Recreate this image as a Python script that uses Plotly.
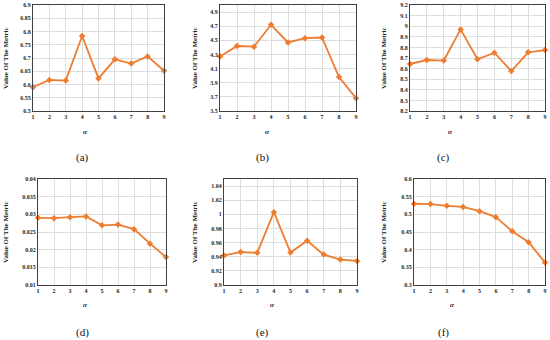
import plotly.graph_objects as go

W, H = 550, 340

alpha = [1, 2, 3, 4, 5, 6, 7, 8, 9]
vals_a = [6.590, 6.617, 6.615, 6.783, 6.623, 6.695, 6.679, 6.706, 6.652]
vals_b = [4.27, 4.42, 4.41, 4.72, 4.47, 4.53, 4.54, 3.98, 3.68]
vals_c = [8.643, 8.681, 8.676, 8.970, 8.688, 8.750, 8.577, 8.754, 8.775]
vals_d = [0.0290, 0.0289, 0.0292, 0.0294, 0.0269, 0.0271, 0.0258, 0.0217, 0.0179]
vals_e = [0.9418, 0.9466, 0.9456, 1.003, 0.946, 0.9627, 0.943, 0.936, 0.934]
vals_f = [0.530, 0.529, 0.524, 0.521, 0.509, 0.492, 0.452, 0.421, 0.364]

panels = [
    # values, y range, dtick, box px (x0, x1, y0, y1), ytitle x px, label, alpha x, label x
    (vals_a, [6.5, 6.9], 0.05, (33, 164, 5, 111), 6, "(a)", 85, 82),
    (vals_b, [3.5, 5.0], 0.2, (220, 356, 5, 111), 195, "(b)", 267, 262),
    (vals_c, [8.2, 9.2], 0.1, (410, 545, 5, 111), 384, "(c)", 450, 443),
    (vals_d, [0.01, 0.04], 0.005, (38, 166, 179, 285), 6, "(d)", 85, 82),
    (vals_e, [0.9, 1.05], 0.02, (224, 357, 179, 285), 195, "(e)", 272, 262),
    (vals_f, [0.3, 0.6], 0.05, (414, 545, 179, 285), 384, "(f)", 452, 443),
]

ORANGE = "#ED7D31"
GRID = "#DDDDDD"
BORDER = "#404040"
FONT = "Liberation Serif"

fig = go.Figure()
layout = dict(
    width=W, height=H,
    margin=dict(l=0, r=0, t=0, b=0),
    paper_bgcolor="white", plot_bgcolor="white",
    showlegend=False,
)
annotations = []

for i, (vals, yr, dt, box, ytx, lab, ax_x, lab_x) in enumerate(panels):
    n = "" if i == 0 else str(i + 1)
    x0, x1, y0, y1 = box
    fig.add_trace(go.Scatter(
        x=alpha, y=vals, mode="lines+markers",
        line=dict(color=ORANGE, width=1.8),
        marker=dict(symbol="diamond", size=5, color=ORANGE),
        xaxis="x" + n, yaxis="y" + n, cliponaxis=False,
    ))
    tickvals = []
    v = yr[0]
    while v <= yr[1] + 1e-9:
        tickvals.append(round(v, 4))
        v += dt
    ticktext = [("%g" % t) for t in tickvals]
    layout["xaxis" + n] = dict(
        domain=[x0 / W, x1 / W], anchor="y" + n, range=[1, 9],
        tickmode="array", tickvals=alpha, ticktext=[str(a) for a in alpha],
        showgrid=True, gridcolor=GRID, gridwidth=1,
        showline=True, linecolor=BORDER, linewidth=1.2, mirror=True,
        zeroline=False, ticks="", automargin=False,
        tickfont=dict(family=FONT, size=6, color="#222", weight="bold"),
    )
    layout["yaxis" + n] = dict(
        domain=[1 - y1 / H, 1 - y0 / H], anchor="x" + n, range=yr,
        tickmode="array", tickvals=tickvals, ticktext=ticktext,
        showgrid=True, gridcolor=GRID, gridwidth=1,
        showline=True, linecolor=BORDER, linewidth=1.2, mirror=True,
        zeroline=False, ticks="", automargin=False,
        tickfont=dict(family=FONT, size=6, color="#222", weight="bold"),
    )
    yc = (y0 + y1) / 2
    annotations.append(dict(
        x=ytx / W, y=1 - yc / H, xref="paper", yref="paper",
        text="<b>Value Of The Metric</b>", textangle=-90, showarrow=False,
        font=dict(family=FONT, size=7, color="#222"),
        xanchor="center", yanchor="middle",
    ))
    ay = 132 if i < 3 else 305
    annotations.append(dict(
        x=ax_x / W, y=1 - ay / H, xref="paper", yref="paper",
        text="<b><i>α</i></b>", showarrow=False,
        font=dict(family=FONT, size=7, color="#222"),
        xanchor="center", yanchor="middle",
    ))
    ly = 157 if i < 3 else 332
    annotations.append(dict(
        x=lab_x / W, y=1 - ly / H, xref="paper", yref="paper",
        text=lab, showarrow=False,
        font=dict(family=FONT, size=11, color="#111"),
        xanchor="center", yanchor="middle",
    ))

layout["annotations"] = annotations
fig.update_layout(**layout)
fig.write_html(
    "out.html",
    config={"displayModeBar": False},
    post_script="document.body.style.margin='0';document.body.style.overflow='hidden';",
)
